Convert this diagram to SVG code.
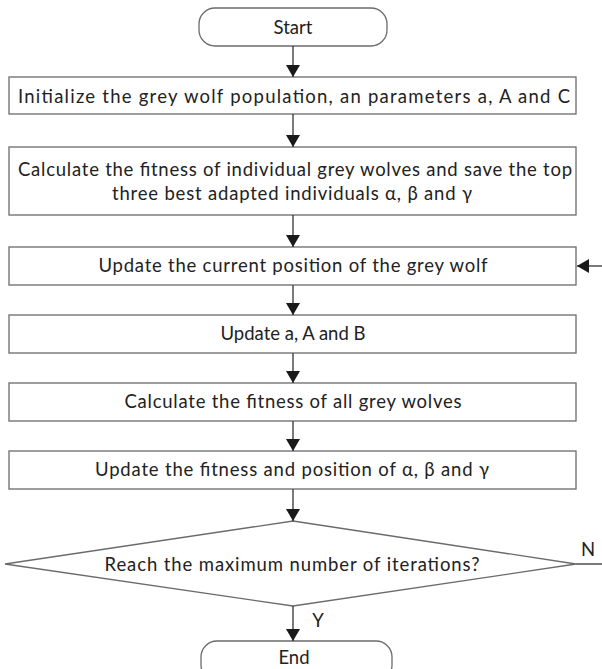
<svg xmlns="http://www.w3.org/2000/svg" width="602" height="669" viewBox="0 0 602 669">
<defs>
<marker id="ah" markerWidth="12" markerHeight="14" refX="12" refY="7" orient="auto" markerUnits="userSpaceOnUse">
<path d="M0,0 L12,7 L0,14 Z" fill="#1a1a1a"/>
</marker>
<style>
.box{fill:#fff;stroke:#6b6b6b;stroke-width:1.3}
.t{font-family:Lato,"Liberation Sans",Arial,sans-serif;font-size:18.5px;fill:#222;text-anchor:middle;dominant-baseline:central}
.c{stroke:#333;stroke-width:1.3;fill:none;marker-end:url(#ah)}
.l{stroke:#333;stroke-width:1.3;fill:none}
</style>
</defs>
<rect width="602" height="669" fill="#fff"/>
<g id="start"><rect class="box" x="199" y="8" width="188" height="38" rx="16"/><text class="t" x="293" y="27">Start</text></g>
<g id="init"><rect class="box" x="9" y="77" width="567" height="37"/><text class="t" x="294" y="96" textLength="552" lengthAdjust="spacing">Initialize the grey wolf population, an parameters a, A and C</text></g>
<g id="fitness1"><rect class="box" x="9" y="147" width="567" height="68"/><text class="t" x="295" y="169" textLength="554" lengthAdjust="spacing">Calculate the fitness of individual grey wolves and save the top</text><text class="t" x="292" y="193" textLength="360" lengthAdjust="spacing">three best adapted individuals α, β and γ</text></g>
<g id="updpos"><rect class="box" x="9" y="247" width="567" height="38"/><text class="t" x="293" y="265" textLength="389" lengthAdjust="spacing">Update the current position of the grey wolf</text></g>
<g id="updaab"><rect class="box" x="9" y="315" width="567" height="38"/><text class="t" x="293" y="333">Update a, A and B</text></g>
<g id="fitall"><rect class="box" x="9" y="383" width="567" height="38"/><text class="t" x="293" y="401" textLength="337" lengthAdjust="spacing">Calculate the fitness of all grey wolves</text></g>
<g id="updfit"><rect class="box" x="9" y="451" width="567" height="38"/><text class="t" x="292" y="469" textLength="394" lengthAdjust="spacing">Update the fitness and position of α, β and γ</text></g>
<g id="decision"><polygon class="box" points="293,521 576,564 293,606 5,564"/><text class="t" x="292" y="564" textLength="375" lengthAdjust="spacing">Reach the maximum number of iterations?</text></g>
<g id="end"><rect class="box" x="201" y="641" width="191" height="40" rx="16"/><text class="t" x="294" y="657">End</text></g>
<g id="connectors">
<line class="c" x1="293" y1="46" x2="293" y2="77"/>
<line class="c" x1="293" y1="114" x2="293" y2="147"/>
<line class="c" x1="293" y1="215" x2="293" y2="247"/>
<line class="c" x1="293" y1="285" x2="293" y2="315"/>
<line class="c" x1="293" y1="353" x2="293" y2="383"/>
<line class="c" x1="293" y1="421" x2="293" y2="451"/>
<line class="c" x1="293" y1="489" x2="293" y2="521"/>
<line class="c" x1="293" y1="606" x2="293" y2="641"/>
<line class="l" x1="576" y1="564" x2="602" y2="564"/>
<line class="c" x1="602" y1="266" x2="577" y2="266"/>
<text class="t" x="318" y="620">Y</text>
<text class="t" x="588" y="549">N</text>
</g>
</svg>
